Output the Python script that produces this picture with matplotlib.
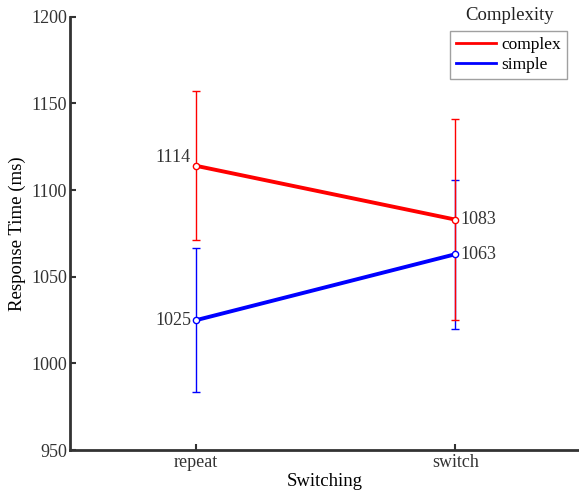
import matplotlib
matplotlib.use("Agg")
import matplotlib.pyplot as plt

plt.rcParams['font.family'] = ['Liberation Serif', 'DejaVu Serif']

conditions = ["repeat", "switch"]
complex_rt = [1114, 1083]
complex_err = [43, 58]
simple_rt = [1025, 1063]
simple_err = [41.5, 43]
yticks = [950, 1000, 1050, 1100, 1150, 1200]

fig = plt.figure(figsize=(5.79, 4.92), dpi=100)
ax = fig.add_axes([0.121, 0.085, 0.879, 0.881])

x = list(range(len(conditions)))
series = [(simple_rt, simple_err, '#0000ff', 'simple', 2),
          (complex_rt, complex_err, '#ff0000', 'complex', 2.5)]
for vals, errs, col, lab, z in series:
    ax.errorbar(x, vals, yerr=errs, fmt='none', ecolor=col, elinewidth=1,
                capsize=3, capthick=1, zorder=z)
for vals, errs, col, lab, z in series:
    ax.plot(x, vals, color=col, lw=2.8, zorder=3)
    ax.plot(x, vals, 'o', mfc='white', mec=col, ms=4.5, mew=1, zorder=4)

# legend proxies in order complex, simple
ax.plot([], [], color='#ff0000', lw=2, label='complex')
ax.plot([], [], color='#0000ff', lw=2, label='simple')

tc = '#333333'
ax.text(x[0] - 0.02, complex_rt[0], str(complex_rt[0]), ha='right', va='bottom', fontsize=13, color=tc)
ax.text(x[0] - 0.02, simple_rt[0], str(simple_rt[0]), ha='right', va='center', fontsize=13, color=tc)
ax.text(x[1] + 0.02, complex_rt[1], str(complex_rt[1]), ha='left', va='center', fontsize=13, color=tc)
ax.text(x[1] + 0.02, simple_rt[1], str(simple_rt[1]), ha='left', va='center', fontsize=13, color=tc)

ax.set_xlim(-0.487, 1.478)
ax.set_ylim(950, 1200)
ax.set_yticks(yticks)
ax.set_xticks(x)
ax.set_xticklabels(conditions)
ax.tick_params(direction='in', length=4, width=1.5, labelsize=13, colors=tc)
ax.tick_params(axis='y', pad=2)
ax.tick_params(axis='x', pad=3)
for s in ['top', 'right']:
    ax.spines[s].set_visible(False)
for s in ['left', 'bottom']:
    ax.spines[s].set_linewidth(2)
    ax.spines[s].set_color(tc)

ax.set_xlabel("Switching", fontsize=13.5, labelpad=1)
ax.set_ylabel("Response Time (ms)", fontsize=13.5, labelpad=4)

leg = ax.legend(loc='upper left', bbox_to_anchor=(0.746, 0.967), fontsize=12.5,
                frameon=True, fancybox=False, edgecolor='#888888',
                handlelength=2.3, handletextpad=0.3, borderpad=0.35,
                labelspacing=0.2, borderaxespad=0)
leg.get_frame().set_linewidth(1)
fig.text(0.88, 0.968, "Complexity", ha='center', va='center', fontsize=13.5, color='#222222')

fig.savefig("out.png", dpi=100)
